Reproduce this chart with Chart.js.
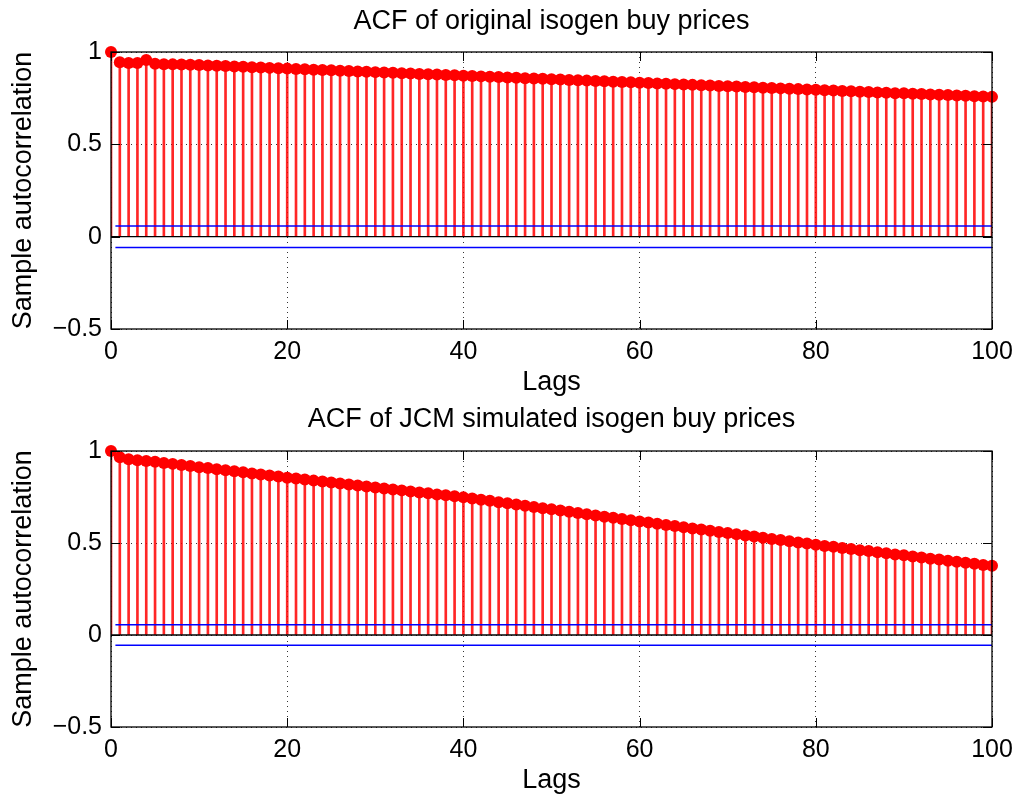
<!DOCTYPE html>
<html>
<head>
<meta charset="utf-8">
<script src="https://cdn.jsdelivr.net/npm/chart.js@4.4.1/dist/chart.umd.min.js"></script>
<style>
  html, body { margin: 0; padding: 0; background: #fff; }
  #wrap { width: 1022px; height: 800px; position: relative; }
  canvas { display: block; }
</style>
</head>
<body>
<div id="wrap">
  <canvas id="acfTop" width="1022" height="400"></canvas>
  <canvas id="acfBottom" width="1022" height="400"></canvas>
</div>
<script>
// Lags 0..100
const lags = [
  0,1,2,3,4,5,6,7,8,9,10,11,12,13,14,15,16,17,18,19,20,
  21,22,23,24,25,26,27,28,29,30,31,32,33,34,35,36,37,38,39,40,
  41,42,43,44,45,46,47,48,49,50,51,52,53,54,55,56,57,58,59,60,
  61,62,63,64,65,66,67,68,69,70,71,72,73,74,75,76,77,78,79,80,
  81,82,83,84,85,86,87,88,89,90,91,92,93,94,95,96,97,98,99,100
];

// Sample autocorrelation of the original buy prices
const acfOriginal = [
  1.000,0.944,0.940,0.941,0.957,0.936,0.934,0.933,0.932,0.931,0.929,
  0.927,0.926,0.924,0.922,0.920,0.918,0.916,0.914,0.912,0.910,
  0.908,0.906,0.904,0.902,0.901,0.899,0.897,0.895,0.893,0.891,
  0.889,0.887,0.885,0.883,0.881,0.880,0.878,0.876,0.874,0.872,
  0.870,0.868,0.866,0.864,0.862,0.860,0.858,0.857,0.855,0.853,
  0.851,0.849,0.847,0.845,0.843,0.841,0.839,0.838,0.836,0.834,
  0.832,0.830,0.828,0.826,0.824,0.822,0.820,0.818,0.816,0.815,
  0.813,0.811,0.809,0.807,0.805,0.803,0.801,0.799,0.797,0.795,
  0.793,0.791,0.789,0.787,0.785,0.783,0.781,0.779,0.777,0.776,
  0.774,0.772,0.770,0.768,0.767,0.765,0.763,0.761,0.759,0.757
];

// Sample autocorrelation of the JCM simulated buy prices
const acfSimulated = [
  1.000,0.966,0.955,0.950,0.946,0.941,0.935,0.930,0.924,0.918,0.912,
  0.907,0.901,0.895,0.890,0.884,0.878,0.872,0.867,0.861,0.855,
  0.850,0.845,0.839,0.834,0.829,0.823,0.818,0.813,0.807,0.802,
  0.796,0.791,0.786,0.780,0.775,0.770,0.764,0.759,0.754,0.748,
  0.742,0.735,0.729,0.722,0.716,0.709,0.702,0.696,0.689,0.683,
  0.676,0.670,0.663,0.656,0.650,0.643,0.637,0.630,0.624,0.617,
  0.611,0.604,0.598,0.592,0.585,0.579,0.573,0.566,0.560,0.554,
  0.547,0.541,0.535,0.528,0.522,0.516,0.509,0.503,0.497,0.490,
  0.484,0.479,0.473,0.467,0.461,0.456,0.450,0.444,0.438,0.433,
  0.427,0.421,0.415,0.410,0.404,0.398,0.393,0.387,0.381,0.376
];

// Approximate 95% confidence bounds
const boundOriginal = 0.058;
const boundSimulated = 0.056;

const titles = [
  'ACF of original isogen buy prices',
  'ACF of JCM simulated isogen buy prices'
];
const xAxisLabel = 'Lags';
const yAxisLabel = 'Sample autocorrelation';
const xTicks = [0, 20, 40, 60, 80, 100];
const yTicks = [-0.5, 0, 0.5, 1];

const FONT = "'Liberation Sans', Arial, Helvetica, sans-serif";

// Black axes box plus inward tick marks on all four sides
const boxPlugin = {
  id: 'axesBox',
  afterDraw(chart) {
    const {ctx, chartArea: a, scales: {x, y}} = chart;
    ctx.save();
    ctx.strokeStyle = '#000';
    ctx.lineWidth = 1.3;
    ctx.strokeRect(a.left, a.top, a.right - a.left, a.bottom - a.top);
    const len = 9;
    ctx.beginPath();
    xTicks.forEach(v => {
      const px = Math.round(x.getPixelForValue(v)) + 0.5;
      ctx.moveTo(px, a.bottom); ctx.lineTo(px, a.bottom - len);
      ctx.moveTo(px, a.top); ctx.lineTo(px, a.top + len);
    });
    yTicks.forEach(v => {
      const py = Math.round(y.getPixelForValue(v)) + 0.5;
      ctx.moveTo(a.left, py); ctx.lineTo(a.left + len, py);
      ctx.moveTo(a.right, py); ctx.lineTo(a.right - len, py);
    });
    ctx.lineWidth = 1;
    ctx.stroke();
    ctx.restore();
  }
};

function makeChart(canvasId, values, bound, title, opts) {
  const points = lags.map((l, i) => ({x: l, y: values[i]}));
  return new Chart(document.getElementById(canvasId), {
    type: 'scatter',
    data: {
      datasets: [
        {
          type: 'scatter',
          data: points,
          pointRadius: 6,
          pointHoverRadius: 6,
          pointBackgroundColor: '#ff0000',
          pointBorderColor: '#ff0000',
          pointBorderWidth: 0,
          clip: false,
          order: 0
        },
        {
          type: 'line',
          data: [{x: 0.5, y: bound}, {x: 100, y: bound}],
          borderColor: '#0000ff',
          borderWidth: 1.5,
          pointRadius: 0,
          order: 1
        },
        {
          type: 'line',
          data: [{x: 0.5, y: -bound}, {x: 100, y: -bound}],
          borderColor: '#0000ff',
          borderWidth: 1.5,
          pointRadius: 0,
          order: 1
        },
        {
          type: 'line',
          data: [{x: 0, y: 0}, {x: 100, y: 0}],
          borderColor: '#000000',
          borderWidth: 1.3,
          pointRadius: 0,
          order: 1
        },
        {
          type: 'bar',
          data: points,
          backgroundColor: 'rgba(255,0,0,0.85)',
          borderWidth: 0,
          barThickness: 2,
          order: 2
        }
      ]
    },
    options: {
      responsive: false,
      animation: false,
      events: [],
      layout: { padding: { left: 0, right: 30, top: 0, bottom: 0 } },
      plugins: {
        legend: { display: false },
        tooltip: { enabled: false },
        title: {
          display: true,
          fullSize: false,
          text: title,
          color: '#000',
          font: { family: FONT, size: 27, weight: 'normal' },
          padding: opts.titlePadding
        }
      },
      scales: {
        x: {
          type: 'linear',
          min: 0,
          max: 100,
          offset: false,
          afterFit(s) { s.height = opts.xHeight; },
          afterBuildTicks(s) { s.ticks = xTicks.map(v => ({value: v})); },
          ticks: {
            color: '#000',
            padding: 8,
            maxRotation: 0,
            font: { family: FONT, size: 25 }
          },
          grid: {
            offset: false,
            color: '#333',
            lineWidth: 1,
            drawTicks: false
          },
          border: { display: false, dash: [1, 4] },
          title: {
            display: true,
            text: xAxisLabel,
            color: '#000',
            font: { family: FONT, size: 27 },
            padding: { top: 0, bottom: opts.xTitleBottom }
          }
        },
        y: {
          type: 'linear',
          min: -0.5,
          max: 1,
          afterFit(s) { s.width = 111; },
          afterBuildTicks(s) { s.ticks = yTicks.map(v => ({value: v})); },
          ticks: {
            color: '#000',
            padding: 9,
            font: { family: FONT, size: 25 },
            callback: v => String(v).replace('-', '\u2212')
          },
          grid: {
            color: '#333',
            lineWidth: 1,
            drawTicks: false
          },
          border: { display: false, dash: [1, 4] },
          title: {
            display: true,
            text: yAxisLabel,
            color: '#000',
            font: { family: FONT, size: 27 },
            padding: { top: 7, bottom: 0 }
          }
        }
      }
    },
    plugins: [boxPlugin]
  });
}

makeChart('acfTop', acfOriginal, boundOriginal, titles[0], {
  titlePadding: { top: 5.8, bottom: 13.8 },
  xHeight: 71,
  xTitleBottom: 1
});
makeChart('acfBottom', acfSimulated, boundSimulated, titles[1], {
  titlePadding: { top: 3.8, bottom: 14.8 },
  xHeight: 73,
  xTitleBottom: 3
});
</script>
</body>
</html>
